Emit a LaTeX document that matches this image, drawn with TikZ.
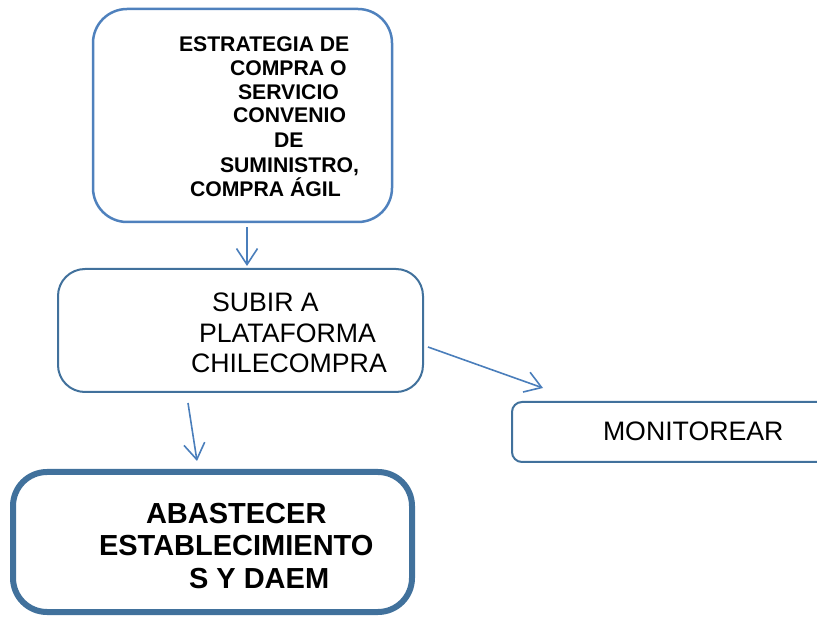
\documentclass[tikz,border=0pt]{standalone}
\usepackage{fontspec}
\setmainfont{Liberation Sans}
\usetikzlibrary{arrows.meta}
\definecolor{bluelight}{HTML}{4F81BD}
\definecolor{bluedark}{HTML}{41719C}
\definecolor{arrowblue}{HTML}{4A7EBB}
\begin{document}
\begin{tikzpicture}[x=1pt,y=-1pt,
  box/.style={draw, rectangle, inner sep=0pt, outer sep=0pt, anchor=north west},
  ln/.style={anchor=base west, inner sep=0pt, outer sep=0pt, text=black},
  tone/.style={ln, font=\bfseries\fontsize{21.2}{24}\selectfont},
  ttwo/.style={ln, font=\fontsize{26.7}{30}\selectfont},
  tfour/.style={ln, font=\bfseries\fontsize{29}{32}\selectfont},
  arr/.style={draw=arrowblue, line width=1.6pt, -{Straight Barb[length=16pt,width=21pt,line width=1.6pt]}}
]
\useasboundingbox (0,0) rectangle (817,617);
\clip (0,0) rectangle (817,617);

% boxes
\node[box, draw=bluelight, line width=2.5pt, rounded corners=34pt, minimum width=299pt, minimum height=213pt] (b1) at (93,9) {};
\node[box, draw=bluedark, line width=2pt, rounded corners=27pt, minimum width=365pt, minimum height=123pt] (b2) at (58,269) {};
\node[box, draw=bluedark, line width=2pt, rounded corners=10pt, minimum width=340pt, minimum height=60pt] (b3) at (512,402) {};
\node[box, draw=bluedark, line width=6pt, rounded corners=34pt, minimum width=399pt, minimum height=140pt] (b4) at (13,472) {};

% box 1 text
\node[tone] (t11) at (179,52) {ESTRATEGIA DE};
\node[tone] (t12) at (230,76) {COMPRA O};
\node[tone] (t13) at (238,100) {SERVICIO};
\node[tone] (t14) at (233,123) {CONVENIO};
\node[tone] (t15) at (274,148) {DE};
\node[tone] (t16) at (220,173) {SUMINISTRO,};
\node[tone] (t17) at (190,197) {COMPRA ÁGIL};

% box 2 text
\node[ttwo] (t21) at (212,312) {SUBIR A};
\node[ttwo] (t22) at (199,343) {PLATAFORMA};
\node[ttwo] (t23) at (191,373) {CHILECOMPRA};

% box 3 text
\node[ttwo] (t31) at (603,441) {MONITOREAR};

% box 4 text
\node[tfour] (t41) at (146,523) {ABASTECER};
\node[tfour] (t42) at (99,555) {ESTABLECIMIENTO};
\node[tfour] (t43) at (189,588) {S Y DAEM};

% arrows
\draw[arr] ([xshift=4.5pt,yshift=-5pt]b1.south) -- ([xshift=6.5pt,yshift=3pt]b2.north);
\draw[arr] ([xshift=5pt,yshift=-16.5pt]b2.east) -- ([xshift=31pt,yshift=14pt]b3.north west);
\draw[arr] ([xshift=-52.5pt,yshift=-11pt]b2.south) -- ([xshift=-15.5pt,yshift=11pt]b4.north);
\end{tikzpicture}
\end{document}
